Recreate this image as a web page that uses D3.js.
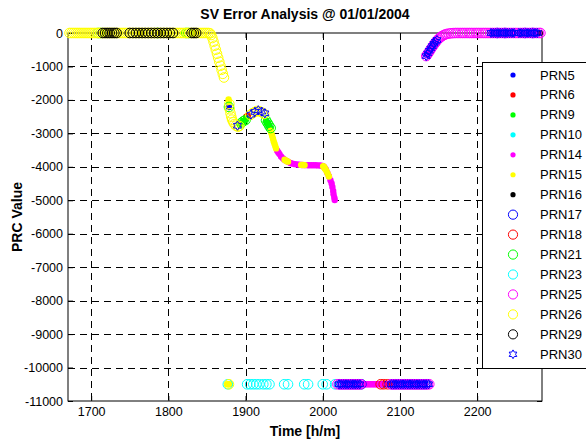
<!DOCTYPE html>
<html>
<head>
<meta charset="utf-8">
<script src="https://cdn.jsdelivr.net/npm/d3@7"></script>
<style>
  html, body { margin: 0; padding: 0; background: #fff; }
  #chart { width: 586px; height: 441px; }
  text { font-family: "Liberation Sans", Arial, sans-serif; }
</style>
</head>
<body>
<div id="chart"></div>
<script>
// [time, PRC value] per satellite
const prn5 = [
  [1878.5, -2210], [1927.5, -2660], [1929.5, -2740], [1931, -2800],
  [2135, -650], [2137.5, -560], [2140, -460], [2143, -340], [2146, -250],
  [2220, 0], [2224, 0], [2229, 0], [2233, 0], [2238, 0], [2242, 0], [2247, 0],
  [2256, 0], [2260, 0], [2265, 0], [2269, 0], [2274, 0], [2278, 0],
  [2024, -10500], [2028, -10500], [2033, -10500], [2038, -10500], [2043, -10500], [2048, -10500],
  [2077, -10500], [2079, -10500], [2081, -10500], [2083, -10500],
  [2092, -10500], [2100, -10500], [2108, -10500], [2116, -10500], [2124, -10500], [2132, -10500]
];
const prn6 = [[1901, -2500], [1903, -2470], [2085, -10500], [2087, -10500]];
const prn9 = [
  [1893, -2720], [1895.5, -2670], [1898, -2620], [1900.5, -2580],
  [1926.5, -2620], [1928.5, -2700], [1930.5, -2780], [1932.5, -2850]
];
const prn10 = [[2018, -10500], [2020, -10500]];
const prn14 = [
  [1941, -3520], [1942.5, -3570], [1944, -3620], [1946, -3690], [1948, -3740], [1950, -3780],
  [1952.5, -3815], [1955, -3850], [1958, -3885], [1961, -3905], [1964, -3920], [1967, -3930],
  [1970, -3938], [1973, -3944], [1976, -3948], [1979, -3950], [1982, -3951], [1985, -3952],
  [1988, -3953], [1991, -3955], [1994, -3957], [1997, -3962], [2000, -3975], [2002, -4010],
  [2004, -4080], [2006, -4180], [2008, -4280], [2010, -4400], [2011.5, -4500], [2012.5, -4600],
  [2013.5, -4720], [2014, -4820], [2015, -4920], [2015.5, -4990],
  [2050, -10500], [2052, -10500], [2054, -10500], [2056, -10500], [2058, -10500], [2060, -10500],
  [2062, -10500], [2064, -10500], [2066, -10500], [2068, -10500], [2070, -10500], [2072, -10500],
  [2074, -10500], [2076, -10500]
];
const prn15 = [
  [1878, -1990], [1878.5, -2060],
  [1932.5, -2920], [1933.5, -3000], [1934.5, -3080], [1935.5, -3160], [1936.5, -3240],
  [1937.5, -3310], [1938.5, -3380], [1939.5, -3450],
  [1950.5, -3790], [1952, -3810], [1953.5, -3830], [1955, -3845],
  [1972, -3943], [1973.5, -3945], [1975, -3947], [1976.5, -3948],
  [2000.5, -3980], [2001.5, -4000], [2002.5, -4040], [2003.5, -4070], [2005, -4130],
  [2006.5, -4210], [2008, -4290],
  [1876.5, -10500], [1878, -10500], [1879.5, -10500]
];
const prn16 = [[1724, 0], [1764, 0], [1790, 0], [1833, 0], [2281, 0]];
const prn17 = [
  [2022, -10500], [2026, -10500], [2030, -10500], [2034, -10500], [2038, -10500], [2042, -10500],
  [2046, -10500], [2050, -10500], [2090, -10500], [2094, -10500], [2098, -10500], [2102, -10500],
  [2106, -10500], [2110, -10500], [2114, -10500], [2118, -10500], [2122, -10500], [2126, -10500],
  [2130, -10500], [2134, -10500],
  [2226, 0], [2236, 0], [2262, 0], [2272, 0]
];
const prn18 = [[2075, -10500], [2079, -10500], [2084, -10500]];
const prn21 = [
  [1709, 0], [1712, 0], [1786, 0], [1823, 0], [1826, 0],
  [1878.5, -2210], [1894, -2700], [1897, -2640], [1900, -2600],
  [1926.5, -2610], [1928.5, -2690], [1930.5, -2770], [1932.5, -2840]
];
const prn23 = [
  [1877, -10500], [1902, -10500], [1906, -10500], [1910, -10500], [1914, -10500], [1918, -10500],
  [1923, -10500], [1927, -10500], [1931, -10500], [1950, -10500], [1955, -10500], [1976, -10500],
  [1981, -10500], [2000, -10500], [2005, -10500], [2016, -10500]
];
const prn25 = [
  [2019, -10500], [2022, -10500], [2025, -10500], [2028, -10500], [2031, -10500], [2034, -10500],
  [2037, -10500], [2040, -10500], [2043, -10500], [2046, -10500], [2049, -10500],
  [2088, -10500], [2091, -10500], [2094, -10500], [2097, -10500], [2100, -10500], [2103, -10500],
  [2106, -10500], [2109, -10500], [2112, -10500], [2115, -10500], [2118, -10500], [2121, -10500],
  [2124, -10500], [2127, -10500], [2130, -10500], [2133, -10500], [2136, -10500], [2138, -10500],
  [2134, -690], [2135.5, -640], [2137, -590], [2138.5, -540], [2140, -480], [2141.5, -430],
  [2143, -380], [2144.5, -330], [2146, -285], [2147.5, -240], [2149, -200], [2150.5, -165],
  [2152, -135], [2154, -100], [2156, -72], [2158, -50], [2160, -32], [2163, -18], [2166, -8],
  [2169, -3], [2172, 0], [2175, 0], [2178, 0], [2181, 0], [2184, 0], [2187, 0], [2190, 0],
  [2193, 0], [2196, 0], [2199, 0], [2202, 0], [2205, 0], [2208, 0], [2211, 0], [2214, 0],
  [2217, 0], [2220, 0], [2223, 0], [2226, 0], [2229, 0], [2232, 0], [2235, 0], [2238, 0],
  [2241, 0], [2244, 0], [2247, 0], [2250, 0], [2253, 0], [2256, 0], [2259, 0], [2262, 0],
  [2265, 0], [2268, 0], [2271, 0], [2274, 0], [2277, 0], [2280, 0], [2282, 0]
];
const prn26 = [
  [1672, 0], [1674.5, 0], [1677, 0], [1679.5, 0], [1682, 0], [1684.5, 0], [1687, 0], [1689.5, 0],
  [1692, 0], [1694.5, 0], [1697, 0], [1699.5, 0], [1702, 0], [1704.5, 0], [1707, 0], [1709.5, 0],
  [1712, 0], [1714.5, 0], [1717, 0], [1719.5, 0], [1722, 0], [1724.5, 0], [1727, 0], [1729.5, 0],
  [1732, 0], [1734.5, 0], [1737, 0], [1739.5, 0], [1742, 0], [1744.5, 0], [1747, 0], [1749.5, 0],
  [1752, 0], [1754.5, 0], [1757, 0], [1759.5, 0], [1762, 0], [1764.5, 0], [1767, 0], [1769.5, 0],
  [1772, 0], [1774.5, 0], [1777, 0], [1779.5, 0], [1782, 0], [1784.5, 0], [1787, 0], [1789.5, 0],
  [1792, 0], [1794.5, 0], [1797, 0], [1799.5, 0], [1802, 0], [1804.5, 0], [1807, 0], [1809.5, 0],
  [1812, 0], [1814.5, 0], [1817, 0], [1819.5, 0], [1822, 0], [1824.5, 0], [1827, 0], [1829.5, 0],
  [1832, 0], [1834.5, 0], [1837, 0], [1839.5, 0], [1842, 0], [1844.5, 0], [1847, 0], [1849.5, 0],
  [1852, 0], [1854, -10],
  [1855.5, -60], [1857, -150], [1858.5, -260], [1860, -380], [1861.5, -500], [1863, -620],
  [1864.5, -740], [1866, -860], [1867.5, -980], [1869, -1100], [1870.5, -1220], [1872, -1330],
  [1879, -2120], [1879.5, -2280], [1880.5, -2400], [1881.5, -2500], [1882.5, -2590], [1884, -2660],
  [1885.5, -2720], [1887.5, -2770], [1890, -2800], [1892, -2780],
  [1906, -2450], [1909, -2400], [1912, -2360], [1915, -2330], [1918, -2340], [1921, -2370], [1924, -2420],
  [1878.5, -10500]
];
const prn29 = [
  [1715, 0], [1718, 0], [1721, 0], [1724, 0], [1727, 0], [1730, 0], [1733, 0],
  [1750, 0], [1754, 0], [1758, 0], [1762, 0], [1766, 0], [1770, 0], [1774, 0], [1778, 0],
  [1782, 0], [1786, 0], [1790, 0], [1794, 0], [1798, 0], [1802, 0], [1806, 0],
  [1830, 0], [1833, 0], [1836, 0]
];
const prn30 = [
  [1889.5, -2770], [1907, -2440], [1912, -2360], [1916.5, -2310], [1921, -2350], [1925, -2400],
  [2134, -690], [2136, -610], [2138, -530], [2140, -460], [2142, -390], [2144, -320], [2146, -260], [2148, -210],
  [2218, 0], [2221, 0], [2224, 0], [2227, 0], [2230, 0], [2233, 0], [2236, 0], [2239, 0], [2242, 0],
  [2245, 0], [2248, 0], [2254, 0], [2257, 0], [2260, 0], [2263, 0], [2266, 0], [2269, 0], [2272, 0],
  [2275, 0], [2278, 0],
  [2021, -10500], [2024, -10500], [2027, -10500], [2030, -10500], [2033, -10500], [2036, -10500],
  [2039, -10500], [2042, -10500], [2045, -10500], [2048, -10500],
  [2089, -10500], [2092, -10500], [2095, -10500], [2098, -10500], [2101, -10500], [2104, -10500],
  [2107, -10500], [2110, -10500], [2113, -10500], [2116, -10500], [2119, -10500], [2122, -10500],
  [2125, -10500], [2128, -10500], [2131, -10500], [2134, -10500], [2137, -10500]
];

const seriesNames = ['PRN5', 'PRN6', 'PRN9', 'PRN10', 'PRN14', 'PRN15', 'PRN16', 'PRN17',
  'PRN18', 'PRN21', 'PRN23', 'PRN25', 'PRN26', 'PRN29', 'PRN30'];
const seriesData = [prn5, prn6, prn9, prn10, prn14, prn15, prn16, prn17,
  prn18, prn21, prn23, prn25, prn26, prn29, prn30];

const xTicks = [1700, 1800, 1900, 2000, 2100, 2200];
const yTicks = [0, -1000, -2000, -3000, -4000, -5000, -6000, -7000, -8000, -9000, -10000, -11000];
const xDomain = [1670, 2284];
const yDomain = [-11000, 0];

// marker style per series (MATLAB '.', 'o', 'h')
const styles = [
  { c: '#0000ff', m: 'dot' }, { c: '#ff0000', m: 'dot' }, { c: '#00ff00', m: 'dot' },
  { c: '#00ffff', m: 'dot' }, { c: '#ff00ff', m: 'dot' }, { c: '#ffff00', m: 'dot' },
  { c: '#000000', m: 'dot' }, { c: '#0000ff', m: 'circle' }, { c: '#ff0000', m: 'circle' },
  { c: '#00ff00', m: 'circle' }, { c: '#00ffff', m: 'circle' }, { c: '#ff00ff', m: 'circle' },
  { c: '#ffff00', m: 'circle' }, { c: '#000000', m: 'circle' }, { c: '#0000ff', m: 'hex' }
];

function hexagram(R) {
  const r = R / Math.sqrt(3);
  const pts = [];
  for (let k = 0; k < 12; k++) {
    const a = -Math.PI / 2 + k * Math.PI / 6;
    const rr = k % 2 === 0 ? R : r;
    pts.push([rr * Math.cos(a), rr * Math.sin(a)]);
  }
  return 'M' + pts.map(p => p[0].toFixed(2) + ',' + p[1].toFixed(2)).join('L') + 'Z';
}

function drawMarker(g, st, px, py, dotR, circR, hexR) {
  if (st.m === 'dot') {
    g.append('circle').attr('cx', px).attr('cy', py).attr('r', dotR).attr('fill', st.c);
  } else if (st.m === 'circle') {
    g.append('circle').attr('cx', px).attr('cy', py).attr('r', circR)
      .attr('fill', 'none').attr('stroke', st.c).attr('stroke-width', 1);
  } else {
    g.append('path').attr('transform', `translate(${px},${py})`).attr('d', hexagram(hexR))
      .attr('fill', 'none').attr('stroke', st.c).attr('stroke-width', 1);
  }
}

function renderChart(containerSelector) {
  const container = d3.select(containerSelector);
  container.selectAll('*').remove();

  const W = 586, H = 441;
  const margin = { top: 33, right: 44, bottom: 40, left: 68 };
  const width = W - margin.left - margin.right;
  const height = H - margin.top - margin.bottom;

  const root = container.append('svg').attr('width', W).attr('height', H);
  const svg = root.append('g').attr('transform', `translate(${margin.left},${margin.top})`);

  const x = d3.scaleLinear().domain(xDomain).range([0, width]);
  const y = d3.scaleLinear().domain(yDomain).range([height, 0]);

  // dashed grid
  const grid = svg.append('g').attr('stroke', '#000').attr('stroke-width', 1)
    .attr('stroke-dasharray', '7,5');
  xTicks.forEach(t => {
    const px = Math.round(x(t)) + 0.5;
    grid.append('line').attr('x1', px).attr('x2', px).attr('y1', 0).attr('y2', height);
  });
  yTicks.slice(1, -1).forEach(t => {
    const py = Math.round(y(t)) + 0.5;
    grid.append('line').attr('x1', 0).attr('x2', width).attr('y1', py).attr('y2', py);
  });

  // axes, MATLAB style inward ticks
  const fmt = d => String(d);
  const gx = svg.append('g').attr('transform', `translate(0,${height})`)
    .call(d3.axisBottom(x).tickValues(xTicks).tickSize(-5).tickPadding(6).tickFormat(fmt));
  const gy = svg.append('g')
    .call(d3.axisLeft(y).tickValues(yTicks).tickSize(-5).tickPadding(5).tickFormat(fmt));
  const gt = svg.append('g')
    .call(d3.axisTop(x).tickValues(xTicks).tickSize(-5).tickFormat(''));
  const gr = svg.append('g').attr('transform', `translate(${width},0)`)
    .call(d3.axisRight(y).tickValues(yTicks).tickSize(-5).tickFormat(''));
  [gx, gy, gt, gr].forEach(g => {
    g.select('.domain').remove();
    g.attr('font-size', 12.5).attr('font-family', '"Liberation Sans", Arial, sans-serif');
    g.selectAll('text').attr('fill', '#000');
  });

  svg.append('rect').attr('x', 0).attr('y', 0).attr('width', width).attr('height', height)
    .attr('fill', 'none').attr('stroke', '#000').attr('stroke-width', 1);

  // data markers, drawn in legend order
  const marks = svg.append('g');
  seriesData.forEach((pts, i) => {
    const st = styles[i];
    const g = marks.append('g');
    pts.forEach(p => drawMarker(g, st, x(p[0]), y(p[1]), 3.2, 4.8, 4.6));
  });

  // titles
  root.append('text').attr('x', margin.left + width / 2).attr('y', 19)
    .attr('text-anchor', 'middle').attr('font-size', 14).attr('font-weight', 'bold')
    .text('SV Error Analysis @ 01/01/2004');
  root.append('text').attr('x', margin.left + width / 2).attr('y', 436)
    .attr('text-anchor', 'middle').attr('font-size', 14).attr('font-weight', 'bold')
    .text('Time [h/m]');
  root.append('text').attr('transform', `translate(22,${margin.top + height / 2}) rotate(-90)`)
    .attr('text-anchor', 'middle').attr('font-size', 14).attr('font-weight', 'bold')
    .text('PRC Value');

  // legend
  const lg = root.append('g').attr('transform', 'translate(482,62)');
  lg.append('rect').attr('x', 0.5).attr('y', 0.5).attr('width', 130).attr('height', 306)
    .attr('fill', '#fff').attr('stroke', '#000').attr('stroke-width', 1);
  seriesNames.forEach((name, i) => {
    const cy = 13 + i * 19.95;
    drawMarker(lg, styles[i], 31, cy, 2.6, 4.6, 4.4);
    lg.append('text').attr('x', 58).attr('y', cy + 4.5).attr('font-size', 13).text(name);
  });
}

renderChart('#chart');
</script>
</body>
</html>
